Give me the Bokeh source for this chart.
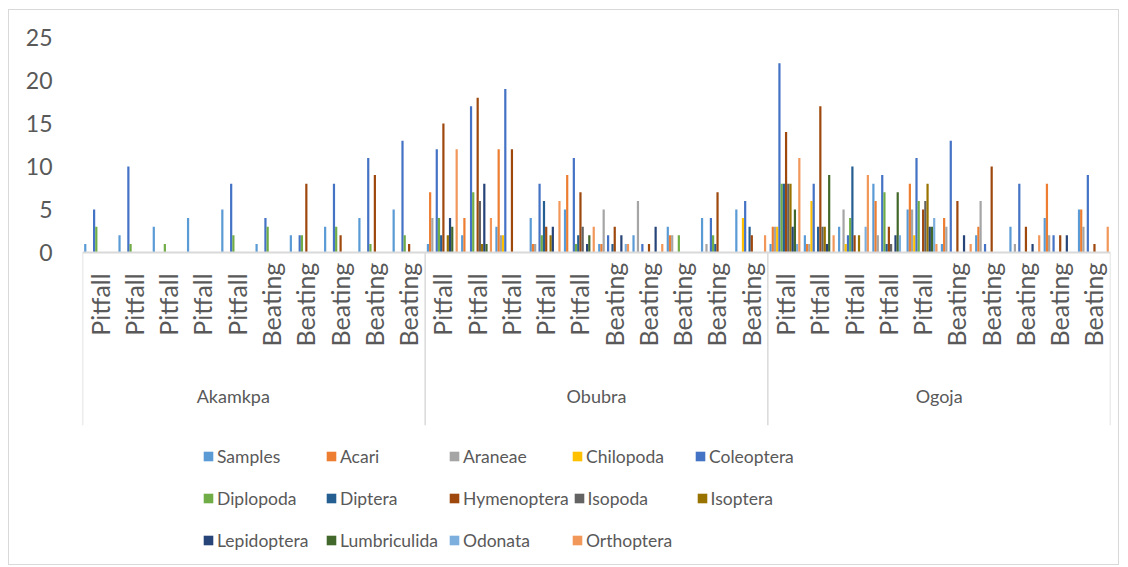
import math
from bokeh.plotting import figure
from bokeh.models import ColumnDataSource, Range1d, FixedTicker, Legend, LegendItem
from bokeh.transform import dodge
from bokeh.core.properties import value
from bokeh.embed import file_html
from bokeh.resources import INLINE

# ---------------- data ----------------
sites = ["Akamkpa", "Obubra", "Ogoja"]
methods = ["Pitfall", "Pitfall", "Pitfall", "Pitfall", "Pitfall",
           "Beating", "Beating", "Beating", "Beating", "Beating"]

series_names = ["Samples", "Acari", "Araneae", "Chilopoda", "Coleoptera",
                "Diplopoda", "Diptera", "Hymenoptera", "Isopoda", "Isoptera",
                "Lepidoptera", "Lumbriculida", "Odonata", "Orthoptera"]

colors = ["#5B9BD5", "#ED7D31", "#A5A5A5", "#FFC000", "#4472C4", "#70AD47",
          "#255E91", "#9E480E", "#636363", "#997300", "#264478", "#43682B",
          "#7CAFDD", "#F1975A"]

#                Akamkpa                         Obubra                              Ogoja
samples      = [1, 2, 3, 4, 5, 1, 2, 3, 4, 5,    1, 2, 3, 4, 5, 1, 2, 3, 4, 5,       1, 2, 3, 8, 5, 1, 2, 3, 4, 5]
acari        = [0, 0, 0, 0, 0, 0, 0, 0, 0, 0,    7, 4, 12, 1, 9, 1, 0, 2, 0, 0,      3, 1, 0, 6, 8, 4, 3, 0, 8, 5]
araneae      = [0, 0, 0, 0, 0, 0, 0, 0, 0, 0,    4, 0, 2, 1, 0, 5, 6, 2, 1, 0,       3, 1, 5, 2, 5, 3, 6, 1, 2, 3]
chilopoda    = [0, 0, 0, 0, 0, 0, 0, 0, 0, 0,    0, 0, 2, 0, 0, 0, 0, 0, 0, 4,       3, 6, 1, 0, 2, 0, 0, 0, 0, 0]
coleoptera   = [5, 10, 0, 0, 8, 4, 2, 8, 11, 13, 12, 17, 19, 8, 11, 2, 1, 0, 4, 6,   22, 8, 2, 9, 11, 13, 1, 8, 2, 9]
diplopoda    = [3, 1, 1, 0, 2, 3, 2, 3, 1, 2,    4, 7, 0, 2, 1, 0, 0, 2, 2, 0,       8, 0, 4, 7, 6, 0, 0, 0, 0, 0]
diptera      = [0, 0, 0, 0, 0, 0, 0, 0, 0, 0,    2, 0, 0, 6, 2, 1, 0, 0, 1, 3,       8, 3, 10, 1, 0, 0, 0, 0, 0, 0]
hymenoptera  = [0, 0, 0, 0, 0, 0, 8, 2, 9, 1,    15, 18, 12, 3, 7, 3, 1, 0, 7, 2,    14, 17, 2, 3, 5, 6, 10, 3, 2, 1]
isopoda      = [0, 0, 0, 0, 0, 0, 0, 0, 0, 0,    0, 6, 0, 0, 3, 0, 0, 0, 0, 0,       8, 3, 0, 1, 6, 0, 0, 0, 0, 0]
isoptera     = [0, 0, 0, 0, 0, 0, 0, 0, 0, 0,    2, 1, 0, 2, 0, 0, 0, 0, 0, 0,       8, 3, 2, 0, 8, 0, 0, 0, 0, 0]
lepidoptera  = [0, 0, 0, 0, 0, 0, 0, 0, 0, 0,    4, 8, 0, 3, 1, 2, 3, 0, 0, 0,       3, 1, 0, 2, 3, 2, 0, 1, 2, 0]
lumbriculida = [0, 0, 0, 0, 0, 0, 0, 0, 0, 0,    3, 1, 0, 0, 2, 0, 0, 0, 0, 0,       5, 9, 0, 7, 3, 0, 0, 0, 0, 0]
odonata      = [0, 0, 0, 0, 0, 0, 0, 0, 0, 0,    0, 0, 0, 0, 0, 1, 0, 0, 0, 0,       1, 0, 3, 2, 4, 0, 0, 0, 0, 0]
orthoptera   = [0, 0, 0, 0, 0, 0, 0, 0, 0, 0,    12, 4, 0, 6, 3, 1, 1, 0, 0, 2,      11, 2, 9, 0, 1, 1, 0, 2, 0, 3]

series_values = [samples, acari, araneae, chilopoda, coleoptera, diplopoda, diptera,
                 hymenoptera, isopoda, isoptera, lepidoptera, lumbriculida, odonata, orthoptera]

yticks = [0, 5, 10, 15, 20, 25]

# ---------------- layout ----------------
FONT = "Lato"
TXT = "#595959"
n_cat = len(sites) * len(methods)
n_ser = len(series_names)

p = figure(width=1111, height=556, output_backend="svg", toolbar_location=None,
           x_axis_location=None, x_range=Range1d(0, n_cat), y_range=Range1d(-36.51, 25.814),
           min_border_left=73, min_border_right=10, min_border_top=20, min_border_bottom=0)
p.styles = {"border": "1px solid #D9D9D9", "margin": "9px 0px 0px 8px"}
p.outline_line_color = None
p.xgrid.visible = False
p.ygrid.visible = False
p.background_fill_color = "white"
p.border_fill_color = "white"

p.yaxis.ticker = FixedTicker(ticks=yticks)
p.yaxis.axis_line_color = None
p.yaxis.major_tick_line_color = None
p.yaxis.minor_tick_line_color = None
p.yaxis.major_label_standoff = 24
p.yaxis.major_label_text_font = FONT
p.yaxis.major_label_text_font_size = "23px"
p.yaxis.major_label_text_color = TXT

data = {"x": [i + 0.5 for i in range(n_cat)]}
for name, vals in zip(series_names, series_values):
    data[name] = vals
src = ColumnDataSource(data)

bw = 1.0 / (n_ser + 1.5)
renderers = []
for k, (name, col) in enumerate(zip(series_names, colors)):
    off = (k - (n_ser - 1) / 2) * bw
    r = p.vbar(x=dodge("x", off), top=name, width=bw, bottom=0, source=src,
               fill_color=col, line_color=None)
    renderers.append(r)

# axis baseline and site separators
p.segment(x0=[0], y0=[0], x1=[n_cat], y1=[0], line_color="#D9D9D9", line_width=2)
seps = [i * len(methods) for i in range(len(sites) + 1)]
p.segment(x0=seps, y0=[0] * len(seps), x1=seps, y1=[-20.1] * len(seps),
          line_color="#D9D9D9", line_width=1.5)

# category labels
cat_x = [i + 0.5 for i in range(n_cat)]
cat_lbl = methods * len(sites)
p.text(x=cat_x, y=[-6.05] * n_cat, text=cat_lbl, angle=math.pi / 2,
       text_align="center", text_baseline="middle", text_font=value(FONT),
       text_font_size="25px", text_color=TXT)
site_x = [len(methods) * (i + 0.5) for i in range(len(sites))]
site_x[0] -= 0.6
p.text(x=site_x, y=[-16.7] * len(sites), text=sites, text_align="center",
       text_baseline="middle", text_font=value(FONT), text_font_size="18px",
       text_color=TXT)

# legends: 3 rows of 5
row_bottoms = [99.5, 57.5, 15.5]
for row in range(3):
    items = [LegendItem(label=series_names[j], renderers=[renderers[j]])
             for j in range(row * 5, min(row * 5 + 5, n_ser))]
    lg = Legend(items=items, location=(120, row_bottoms[row]), orientation="horizontal",
                glyph_width=12, glyph_height=12, label_standoff=3, label_width=104,
                spacing=4, padding=0, margin=0, border_line_color=None,
                background_fill_alpha=0, label_text_font=FONT,
                label_text_font_size="17.5px", label_text_color=TXT, label_height=12)
    p.add_layout(lg)

open("out.html", "w").write(file_html(p, INLINE))
